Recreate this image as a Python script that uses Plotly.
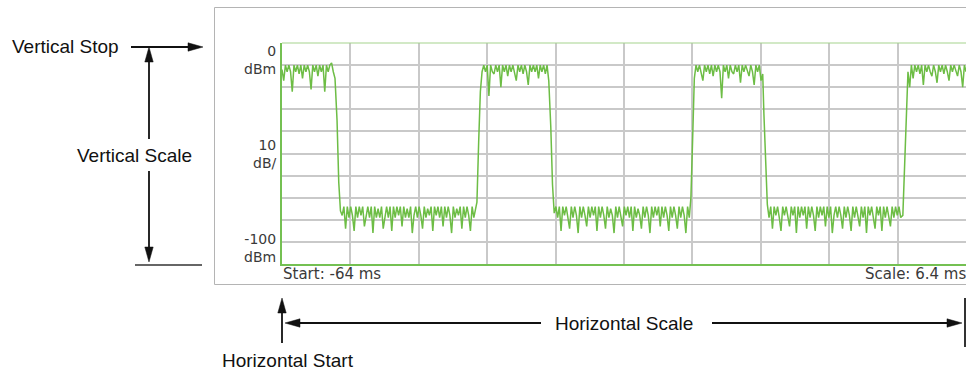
import plotly.graph_objects as go

# ---------------- data ----------------
DT = 0.16  # ms between samples
seg_start = [-64.0, -58.85, -45.76, -38.85, -25.74, -18.91, -5.91]  # ms

high1 = [-12, -17, -10, -13, -10, -13, -22, -10, -13, -10,
         -14, -10, -16, -10, -13, -10, -13, -21, -10, -13,
         -10, -15, -10, -13, -10, -22, -10, -13, -10, -9,
         -13, -16]
low1 = [-35, -63, -76,
        -78, -74, -84, -74, -79, -74, -78, -85, -74, -79,
        -74, -78, -74, -83, -78, -74, -79, -74, -86, -74,
        -79, -75, -79, -74, -84, -78, -74, -79, -74, -85,
        -74, -79, -74, -78, -74, -83, -74, -79, -75, -79,
        -74, -86, -78, -74, -79, -74, -78, -84, -74, -79,
        -75, -78, -74, -85, -74, -78, -74, -79, -74, -83,
        -74, -79, -74, -78, -86, -74, -79, -75, -78, -74,
        -84, -74, -79, -74, -78, -85, -74, -79, -75]
high2 = [-72, -45, -22,
         -13, -10, -13, -10, -24, -10, -13, -14, -10, -13,
         -10, -20, -10, -13, -10, -15, -10, -13, -10, -13,
         -17, -10, -13, -10, -14, -10, -13, -19, -10, -13,
         -10, -13, -10, -16, -10, -13, -10, -14, -10, -17]
low2 = [-38, -64, -77,
        -74, -79, -74, -85, -74, -78, -74, -79, -84, -74,
        -79, -74, -78, -86, -74, -79, -74, -78, -83, -74,
        -79, -74, -78, -74, -85, -74, -79, -74, -78, -84,
        -74, -79, -75, -78, -86, -74, -79, -74, -78, -83,
        -74, -78, -74, -79, -74, -85, -74, -79, -75, -78,
        -84, -74, -79, -74, -78, -86, -74, -79, -74, -78,
        -74, -83, -74, -79, -74, -78, -85, -74, -79, -74,
        -78, -84, -74, -79, -74, -78, -86, -74, -79]
high3 = [-70, -44, -16,
         -10, -13, -10, -13, -17, -10, -13, -10, -14, -10,
         -15, -10, -13, -10, -13, -25, -10, -13, -10, -16,
         -10, -13, -14, -10, -13, -10, -18, -10, -13, -10,
         -13, -15, -10, -13, -19, -10, -13, -10, -17, -14]
low3 = [-32, -57, -73,
        -79, -74, -84, -74, -78, -74, -79, -85, -74, -78,
        -74, -79, -83, -74, -78, -74, -86, -74, -79, -74,
        -78, -74, -84, -74, -79, -74, -78, -85, -74, -79,
        -74, -78, -74, -83, -74, -79, -74, -86, -78, -74,
        -79, -74, -78, -84, -74, -79, -74, -78, -85, -74,
        -79, -74, -78, -83, -74, -79, -74, -86, -74, -78,
        -74, -79, -84, -74, -78, -74, -85, -74, -79, -74,
        -78, -83, -74, -79, -74, -78, -74, -79]
high4 = [-78, -57, -34,
         -13, -20, -10, -16, -10, -13, -10, -14, -10, -19,
         -10, -13, -10, -13, -15, -10, -13, -18, -10, -13,
         -10, -14, -10, -13, -17, -10, -13, -10, -13, -15,
         -10, -13, -20, -10, -13]

segments = [high1, low1, high2, low2, high3, low3, high4]

y_tick_labels = ["0<br>dBm", "10<br>dB/", "-100<br>dBm"]
start_label = "Start: -64 ms"
scale_label = "Scale: 6.4 ms"
x_range = [-64, 0]
y_range = [-100, 0]

# ---------------- build trace ----------------
xs, ys = [], []
for t0, vals in zip(seg_start, segments):
    for i, v in enumerate(vals):
        xs.append(round(t0 + i * DT, 4))
        ys.append(v)

W, H = 966, 372


def px(x):
    return x / W


def py(y):
    return 1 - y / H


fig = go.Figure()
fig.add_trace(go.Scatter(x=xs, y=ys, mode="lines",
                         line=dict(color="#6dbd45", width=1.5),
                         hoverinfo="skip"))

GRID = "#c9c9c9"
GREEN_AX = "#74c052"
fig.update_layout(
    width=W, height=H,
    margin=dict(l=0, r=0, t=0, b=0),
    paper_bgcolor="white", plot_bgcolor="white",
    showlegend=False,
    xaxis=dict(domain=[px(282), 1.0], range=x_range, tick0=-64, dtick=6.4,
               showgrid=True, gridcolor=GRID, gridwidth=1.5,
               showticklabels=False, ticks="", zeroline=False,
               showline=True, linecolor=GREEN_AX, linewidth=1.5),
    yaxis=dict(domain=[py(264), py(43)], range=y_range, dtick=10,
               showgrid=True, gridcolor=GRID, gridwidth=1.5,
               showticklabels=False, ticks="", zeroline=False,
               showline=True, linecolor=GREEN_AX, linewidth=1.5),
)

shapes = []
# outer instrument box
shapes.append(dict(type="rect", xref="paper", yref="paper",
                   x0=px(214.5), x1=px(975), y0=py(284.5), y1=py(7.5),
                   line=dict(color="#b4b4b4", width=1), layer="below"))
# top border of plot (light green)
shapes.append(dict(type="line", xref="paper", yref="paper",
                   x0=px(282), x1=1.0, y0=py(43), y1=py(43),
                   line=dict(color="#a6d48e", width=1.2)))

BLK = "#111111"
LW = 1.8


def line(x0, y0, x1, y1, color=BLK, w=LW):
    shapes.append(dict(type="line", xref="paper", yref="paper",
                       x0=px(x0), y0=py(y0), x1=px(x1), y1=py(y1),
                       line=dict(color=color, width=w)))


def head(tx, ty, direction, length=15, half=4.2):
    if direction == "right":
        pts = [(tx, ty), (tx - length, ty - half), (tx - length, ty + half)]
    elif direction == "left":
        pts = [(tx, ty), (tx + length, ty - half), (tx + length, ty + half)]
    elif direction == "up":
        pts = [(tx, ty), (tx - half, ty + length), (tx + half, ty + length)]
    else:
        pts = [(tx, ty), (tx - half, ty - length), (tx + half, ty - length)]
    path = "M {:.5f},{:.5f} L {:.5f},{:.5f} L {:.5f},{:.5f} Z".format(
        *[c for p in pts for c in (px(p[0]), py(p[1]))])
    shapes.append(dict(type="path", xref="paper", yref="paper", path=path,
                       fillcolor=BLK, line=dict(color=BLK, width=0.5)))


# Vertical Stop arrow
line(131, 47, 192, 47)
head(203, 47, "right")
# Vertical Scale arrow (two parts)
line(149, 58, 149, 139)
head(149, 47, "up")
line(149, 171, 149, 250)
head(149, 262, "down")
line(135, 265, 202, 265, color="#333333", w=1.5)
# Horizontal Start arrow
line(282, 310, 282, 343)
head(282, 298, "up")
# Horizontal Scale arrow
line(296, 323, 541, 323)
head(285, 323, "left")
line(712, 323, 952, 323)
head(962, 323, "right")
line(965, 298, 965, 347, color="#333333", w=2)

annotations = []
BIG = dict(family="Liberation Sans, Arial, sans-serif", size=19, color="#111111")
SMALL = dict(family="DejaVu Sans, Verdana, sans-serif", size=14, color="#3a3a3a")


def text(s, x, y, xanchor="left", font=BIG, align="left"):
    annotations.append(dict(text=s, x=px(x), y=py(y), xref="paper", yref="paper",
                            xanchor=xanchor, yanchor="middle", showarrow=False,
                            font=font, borderpad=0, align=align))


text("Vertical Stop", 11, 46)
text("Vertical Scale", 76, 155)
text("Horizontal Scale", 554, 323)
text("Horizontal Start", 221, 360)

label_mid = [60, 154, 248]
for s, ym in zip(y_tick_labels, label_mid):
    text(s, 277, ym, xanchor="right", font=SMALL, align="right")

START_FONT = dict(family="DejaVu Sans, Verdana, sans-serif", size=15, color="#3a3a3a")
text(start_label, 282, 274, font=START_FONT)
text(scale_label, 967, 274, xanchor="right", font=START_FONT)

fig.update_layout(shapes=shapes, annotations=annotations)
fig.write_html("out.html", config={"displayModeBar": False},
               post_script="document.body.style.margin='0';"
                           "document.body.style.padding='0';")
